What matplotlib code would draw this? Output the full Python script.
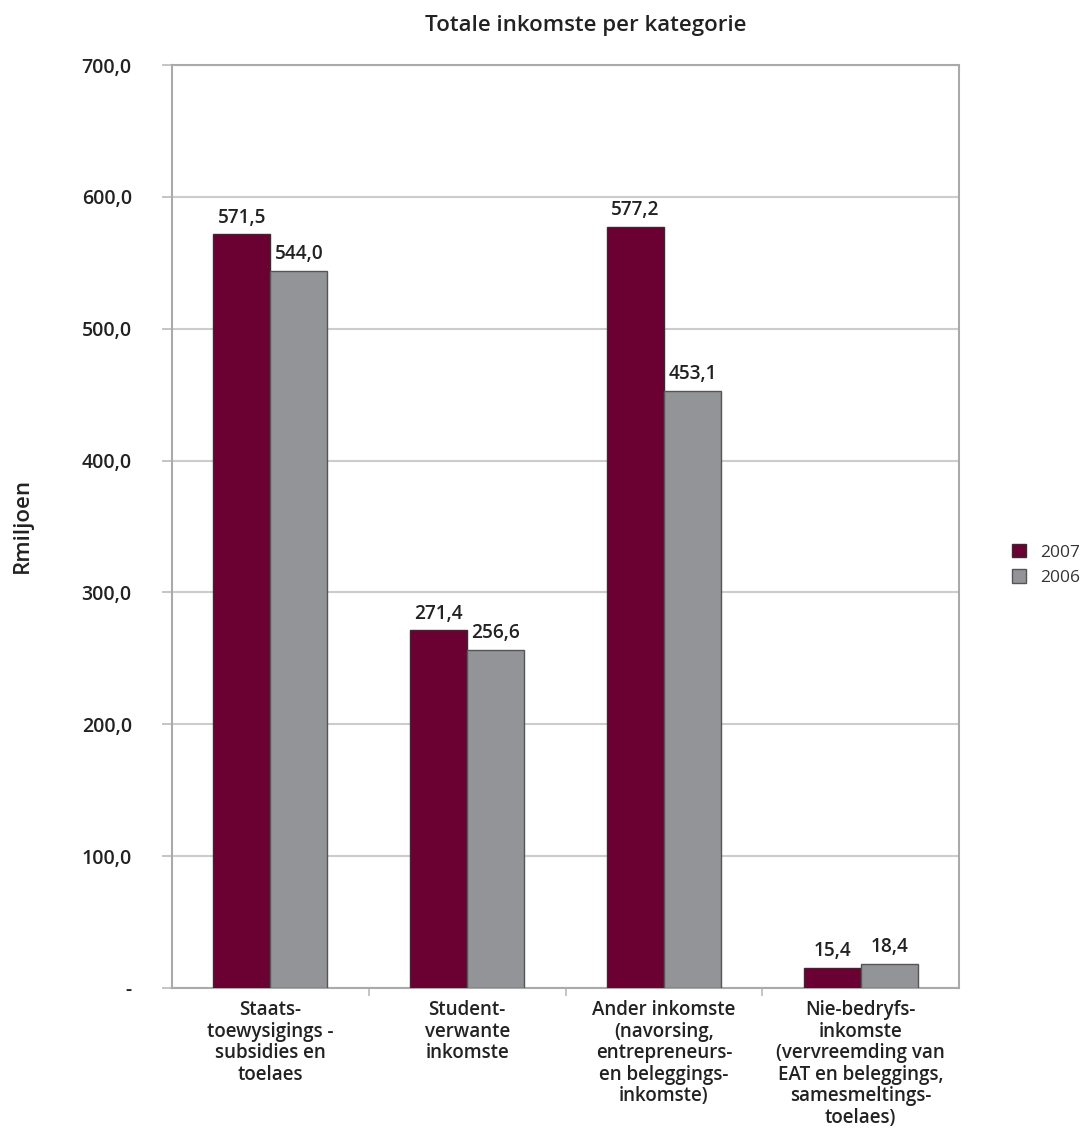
import numpy as np
import matplotlib
matplotlib.use("Agg")
import matplotlib.pyplot as plt
from matplotlib.ticker import FixedLocator

plt.rcParams['font.family'] = ['Open Sans', 'DejaVu Sans']

# Data
categories = [
    "Staats-\ntoewysigings -\nsubsidies en\ntoelaes",
    "Student-\nverwante\ninkomste",
    "Ander inkomste\n(navorsing,\nentrepreneurs-\nen beleggings-\ninkomste)",
    "Nie-bedryfs-\ninkomste\n(vervreemding van\nEAT en beleggings,\nsamesmeltings-\ntoelaes)",
]
vals_2007 = [571.5, 271.4, 577.2, 15.4]
vals_2006 = [544.0, 256.6, 453.1, 18.4]
series_labels = ["2007", "2006"]
yticks = [0, 100, 200, 300, 400, 500, 600, 700]
ytick_labels = ["-", "100,0", "200,0", "300,0", "400,0", "500,0", "600,0", "700,0"]

c07 = "#6b0033"
c06 = "#939498"
txt = "#222222"

fig = plt.figure(figsize=(10.84, 11.29), dpi=100)
ax = fig.add_axes([0.1587, 0.1249, 0.726, 0.8175])

x = np.arange(len(categories))
w = 0.29
b1 = ax.bar(x - w / 2, vals_2007, w, color=c07, edgecolor="#3a2a2f", linewidth=1.0,
            label=series_labels[0], zorder=3)
b2 = ax.bar(x + w / 2, vals_2006, w, color=c06, edgecolor="#555555", linewidth=1.0,
            label=series_labels[1], zorder=3)

for bars in (b1, b2):
    for r in bars:
        h = r.get_height()
        ax.text(r.get_x() + r.get_width() / 2, h + 5, f"{h:.1f}".replace(".", ","),
                ha="center", va="bottom", fontsize=13.7, fontweight="semibold", color=txt)

ax.set_xlim(-0.5, len(categories) - 0.5)
ax.set_ylim(0, 700)
ax.set_yticks(yticks)
ax.set_yticklabels(ytick_labels, fontsize=14, fontweight="semibold", color=txt)
ax.yaxis.grid(True, color="#cccccc", linewidth=1.5, zorder=0)
ax.tick_params(axis="y", length=7, width=1.2, color="#bbbbbb", pad=22)

ax.set_xticks(x)
ax.set_xticklabels(categories, fontsize=13.5, fontweight="semibold", color=txt,
                   linespacing=1.1)
ax.tick_params(axis="x", which="major", length=0, pad=9)
ax.xaxis.set_minor_locator(FixedLocator([0.5, 1.5, 2.5]))
ax.tick_params(axis="x", which="minor", length=6, width=1.2, color="#bbbbbb")

for s in ax.spines.values():
    s.set_color("#aaaaaa")
    s.set_linewidth(1.5)

fig.text(0.5406, 0.977, "Totale inkomste per kategorie", ha="center", va="center",
         fontsize=16, fontweight="semibold", color=txt)
fig.text(0.021, 0.535, "Rmiljoen", rotation=90, ha="center", va="center",
         fontsize=16, fontweight="semibold", color=txt)

fig.legend(handles=[b1, b2], loc="center left", bbox_to_anchor=(0.9336, 0.4995),
           frameon=False, fontsize=12.5, handlelength=0.8, handleheight=0.8,
           handletextpad=0.8, labelspacing=0.5, labelcolor="#333333",
           borderpad=0, borderaxespad=0)

fig.savefig("out.png", dpi=100)
